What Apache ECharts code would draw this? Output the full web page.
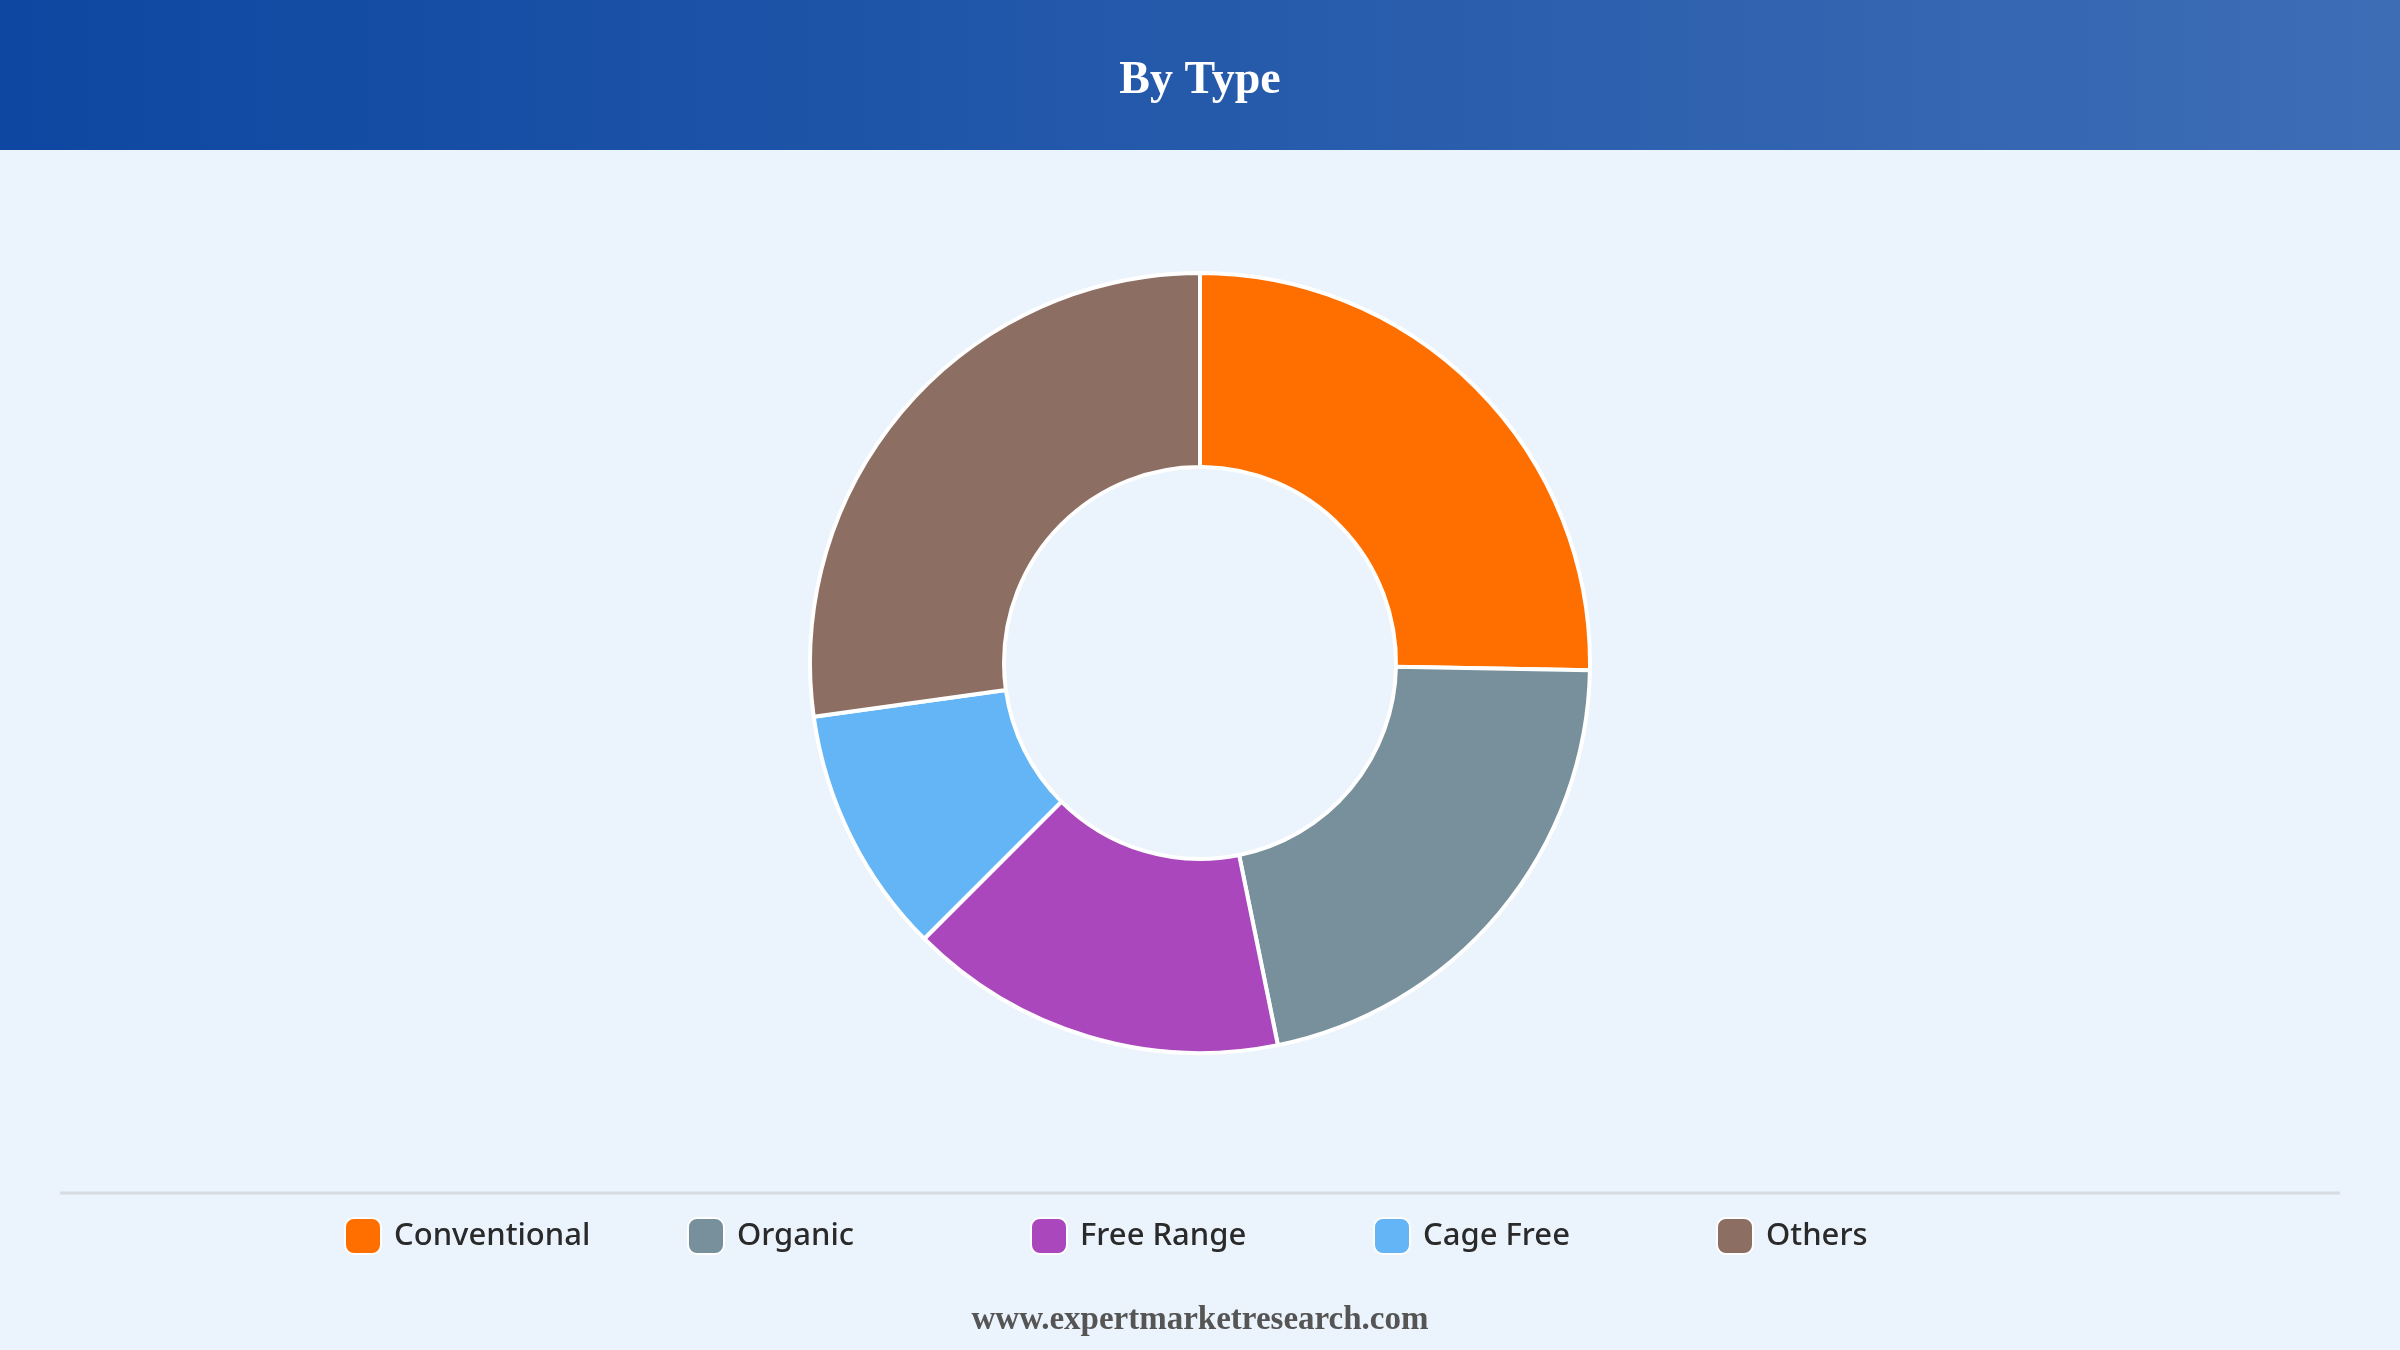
<!DOCTYPE html>
<html lang="en">
<head>
<meta charset="utf-8"/>
<title>By Type</title>
<script src="https://cdn.jsdelivr.net/npm/echarts@6/dist/echarts.min.js"></script>
<style>
  html, body { margin: 0; padding: 0; background: #ebf3fc; }
  #chart { width: 2400px; height: 1350px; }
</style>
</head>
<body>
<div id="chart"></div>
<script>
// data
var categories = ['Conventional', 'Organic', 'Free Range', 'Cage Free', 'Others'];
var values = [25.3, 21.5, 15.7, 10.3, 27.2];
var colors = ['#ff6f00', '#78909c', '#ab47bc', '#64b5f6', '#8d6e63'];

var chart = echarts.init(document.getElementById('chart'));

var pieData = [];
for (var i = 0; i < categories.length; i++) {
    pieData.push({ name: categories[i], value: values[i], itemStyle: { color: colors[i] } });
}

// one legend per item so the spacing is fixed
var legends = [];
for (var j = 0; j < categories.length; j++) {
    legends.push({
        data: [categories[j]],
        left: 339 + j * 343,
        top: 1212,
        itemWidth: 36,
        itemHeight: 36,
        icon: 'roundRect',
        itemGap: 0,
        textStyle: { fontFamily: 'Noto Sans', fontSize: 31, fontWeight: 500, color: '#2a2a2a', padding: [0, 0, 0, 8] }
    });
}

var option = {
    backgroundColor: '#ebf3fc',
    animation: false,
    graphic: [
        {
            type: 'rect',
            shape: { x: 0, y: 0, width: 2400, height: 150 },
            style: {
                fill: new echarts.graphic.LinearGradient(0, 0, 1, 0, [
                    { offset: 0, color: '#0d47a1' },
                    { offset: 1, color: '#3d6db5' }
                ])
            }
        },
        {
            type: 'text',
            left: 'center',
            top: 58,
            style: { text: 'By Type', fill: '#fff', font: 'bold 46px "Liberation Serif", serif' }
        },
        {
            type: 'line',
            shape: { x1: 60, y1: 1193, x2: 2340, y2: 1193 },
            style: { stroke: '#d8dce2', lineWidth: 3 }
        },
        {
            type: 'text',
            left: 'center',
            top: 1304,
            style: { text: 'www.expertmarketresearch.com', fill: '#555', font: 'bold 33px "Liberation Serif", serif' }
        }
    ],
    legend: legends,
    series: [{
        type: 'pie',
        center: [1200, 663],
        radius: [196, 390],
        startAngle: 90,
        label: { show: false },
        labelLine: { show: false },
        itemStyle: { borderColor: '#fff', borderWidth: 4 },
        data: pieData
    }]
};
chart.setOption(option);
</script>
</body>
</html>
